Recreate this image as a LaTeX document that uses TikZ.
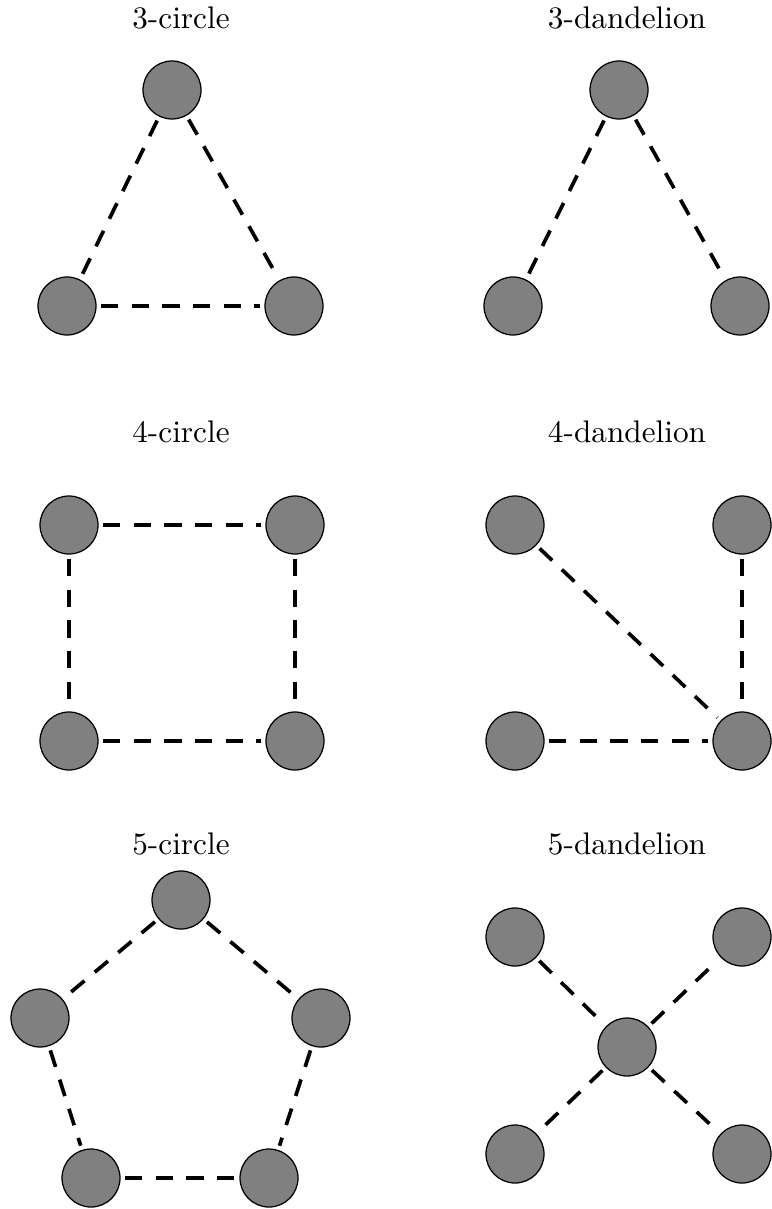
\documentclass[tikz,border=0pt]{standalone}
\begin{document}
\begin{tikzpicture}[x=0.32pt,y=-0.32pt,
  vtx/.style={circle,draw=black,fill=gray,line width=0.4pt,minimum size=18.56pt,inner sep=0pt,outer sep=1.6pt},
  lnk/.style={line width=1.18pt,dash pattern=on 5.54pt off 4.26pt},
  lbl/.style={anchor=base,font=\fontsize{10}{12}\selectfont}]
\useasboundingbox (0,0) rectangle (772,1209);
% labels
\node[lbl] (t1) at (181,29) {3-circle};
\node[lbl] (t2) at (627,29) {3-dandelion};
\node[lbl] (t3) at (181,442) {4-circle};
\node[lbl] (t4) at (627,442) {4-dandelion};
\node[lbl] (t5) at (181,854) {5-circle};
\node[lbl] (t6) at (627,854) {5-dandelion};
% 3-circle
\node[vtx] (a1) at (172,90) {};
\node[vtx] (a2) at (67,306) {};
\node[vtx] (a3) at (294,306) {};
\draw[lnk] (a1) -- (a2);
\draw[lnk] (a1) -- (a3);
\draw[lnk] (a2) -- (a3);
% 3-dandelion
\node[vtx] (b1) at (619,90) {};
\node[vtx] (b2) at (513,306) {};
\node[vtx] (b3) at (740,306) {};
\draw[lnk] (b1) -- (b2);
\draw[lnk] (b1) -- (b3);
% 4-circle
\node[vtx] (c1) at (69,525) {};
\node[vtx] (c2) at (295,525) {};
\node[vtx] (c3) at (69,741) {};
\node[vtx] (c4) at (295,741) {};
\draw[lnk] (c1) -- (c2);
\draw[lnk] (c1) -- (c3);
\draw[lnk] (c2) -- (c4);
\draw[lnk] (c3) -- (c4);
% 4-dandelion
\node[vtx] (d1) at (515,525) {};
\node[vtx] (d2) at (742,525) {};
\node[vtx] (d3) at (515,741) {};
\node[vtx] (d4) at (742,741) {};
\draw[lnk] (d1) -- (d4);
\draw[lnk] (d2) -- (d4);
\draw[lnk] (d3) -- (d4);
% 5-circle
\node[vtx] (e1) at (181,900) {};
\node[vtx] (e2) at (40,1018) {};
\node[vtx] (e3) at (321,1018) {};
\node[vtx] (e4) at (91,1178) {};
\node[vtx] (e5) at (269,1178) {};
\draw[lnk] (e1) -- (e2);
\draw[lnk] (e1) -- (e3);
\draw[lnk] (e2) -- (e4);
\draw[lnk] (e3) -- (e5);
\draw[lnk] (e4) -- (e5);
% 5-dandelion
\node[vtx] (f0) at (627,1047) {};
\node[vtx] (f1) at (515,937) {};
\node[vtx] (f2) at (742,937) {};
\node[vtx] (f3) at (515,1154) {};
\node[vtx] (f4) at (742,1154) {};
\draw[lnk] (f1) -- (f0);
\draw[lnk] (f0) -- (f2);
\draw[lnk] (f0) -- (f3);
\draw[lnk] (f0) -- (f4);
\end{tikzpicture}
\end{document}
